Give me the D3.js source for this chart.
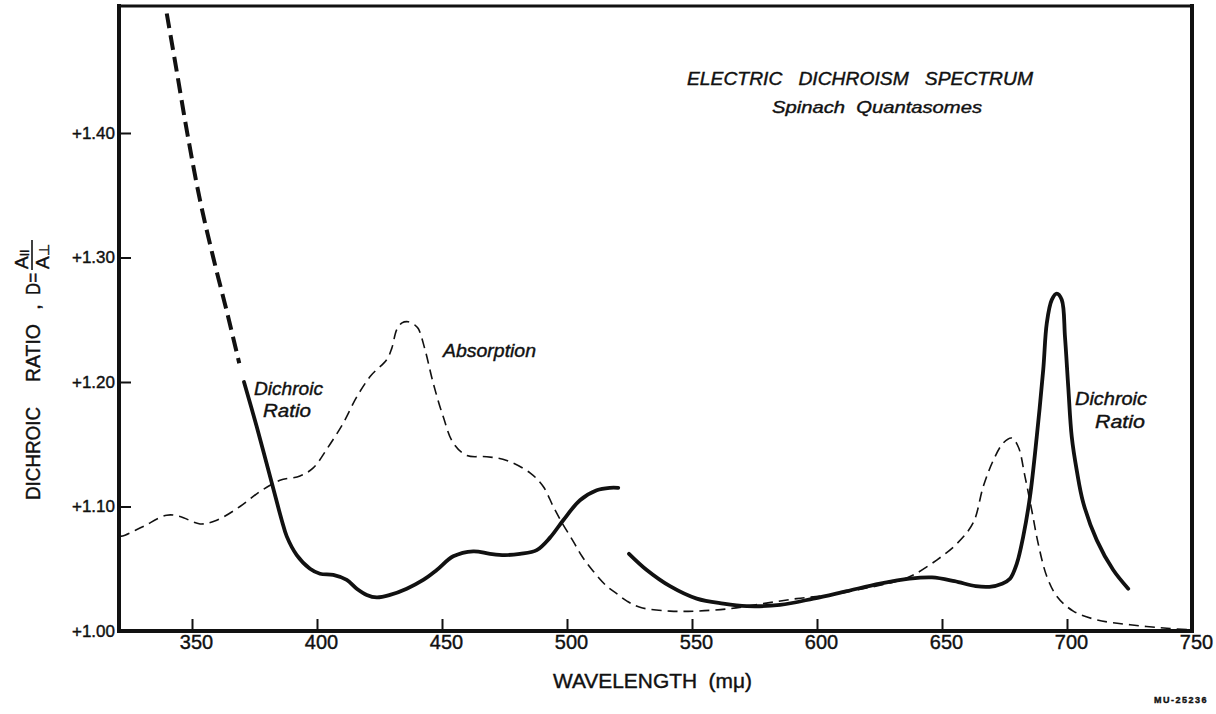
<!DOCTYPE html>
<html>
<head>
<meta charset="utf-8">
<script src="https://cdn.jsdelivr.net/npm/d3@7"></script>
<style>
  body { margin: 0; background: #fff; }
  text { font-family: "Liberation Sans", Arial, sans-serif; fill: #111; stroke: #111; stroke-width: 0.4px; white-space: pre; }
</style>
</head>
<body>
<div id="chart"></div>
<script>
// electric dichroism spectrum, spinach quantasomes

// dichroic ratio, extrapolated part (drawn thick dashed)
const extrapWl = [339.9, 343.6, 348.1, 353.2, 358.5, 364.5, 368.9]
const extrapD = [1.496, 1.453, 1.400, 1.346, 1.300, 1.252, 1.215]

// dichroic ratio, blue region (solid)
const ratioBlueWl = [370.8, 375.9, 381.9, 385.9, 387.9, 391.9, 397.2, 401.2, 406.5, 411.9, 415.9, 419.9, 423.9, 429.2, 435.9, 442.5, 447.9, 454.5, 462.5, 469.2, 475.0, 481.2, 487.9, 493.2, 498.5, 505.2, 511.9, 517.2, 520.5]
const ratioBlueD = [1.200, 1.164, 1.119, 1.089, 1.076, 1.061, 1.050, 1.046, 1.045, 1.041, 1.034, 1.029, 1.027, 1.029, 1.034, 1.041, 1.049, 1.060, 1.064, 1.062, 1.061, 1.062, 1.065, 1.075, 1.089, 1.105, 1.113, 1.115, 1.115]

// dichroic ratio, red region (solid)
const ratioRedWl = [524.8, 531.9, 541.2, 551.9, 562.5, 571.9, 585.2, 598.5, 611.9, 625.2, 637.0, 646.0, 655.0, 663.5, 669.0, 674.0, 677.2, 679.9, 682.5, 685.2, 687.9, 690.5, 691.9, 693.9, 695.9, 697.9, 699.2, 700.5, 701.9, 703.9, 706.5, 711.9, 718.5, 724.5]
const ratioRedD = [1.062, 1.049, 1.036, 1.026, 1.022, 1.020, 1.021, 1.026, 1.032, 1.038, 1.042, 1.043, 1.040, 1.036, 1.0355, 1.038, 1.042, 1.054, 1.076, 1.108, 1.156, 1.210, 1.247, 1.266, 1.271, 1.266, 1.236, 1.196, 1.156, 1.129, 1.103, 1.073, 1.049, 1.034]

// absorption spectrum (thin dashed), same vertical scale
const absorbWl = [321.2, 323.2, 330.5, 339.9, 345.2, 353.2, 359.9, 369.2, 377.2, 385.2, 393.2, 398.5, 403.9, 410.5, 415.9, 421.5, 427.9, 429.9, 431.9, 434.0, 436.5, 439.0, 440.5, 443.2, 446.5, 450.5, 454.5, 459.9, 467.9, 475.9, 485.2, 490.5, 494.5, 498.0, 502.5, 506.0, 510.5, 515.9, 519.9, 524.0, 529.2, 541.2, 551.9, 565.2, 578.5, 591.9, 605.2, 618.5, 631.9, 638.5, 647.9, 655.9, 662.5, 666.5, 670.5, 674.5, 677.9, 680.5, 683.2, 685.9, 688.5, 691.9, 695.9, 702.5, 711.9, 725.2, 741.2, 749.0]
const absorbD = [1.076, 1.077, 1.084, 1.093, 1.092, 1.086, 1.089, 1.100, 1.112, 1.121, 1.1245, 1.131, 1.146, 1.167, 1.188, 1.205, 1.218, 1.227, 1.242, 1.2475, 1.2484, 1.246, 1.243, 1.226, 1.199, 1.172, 1.151, 1.141, 1.140, 1.137, 1.127, 1.116, 1.100, 1.087, 1.072, 1.060, 1.048, 1.036, 1.030, 1.024, 1.019, 1.016, 1.016, 1.018, 1.022, 1.026, 1.029, 1.034, 1.040, 1.045, 1.057, 1.070, 1.087, 1.116, 1.137, 1.151, 1.155, 1.148, 1.124, 1.097, 1.070, 1.044, 1.028, 1.016, 1.009, 1.005, 1.002, 1.001]

const xTicks = [350, 400, 450, 500, 550, 600, 650, 700, 750]
const yTicks = [1.0, 1.1, 1.2, 1.3, 1.4]

function renderSpectrum(frame_id) {
    let width = 1216
    let height = 714

    var svg = d3.select("#" + frame_id)
        .append("svg")
        .attr("width", width)
        .attr("height", height)

    svg.append("rect").attr("width", width).attr("height", height).attr("fill", "#fff")

    var x = d3.scaleLinear().domain([320.8, 750]).range([119, 1192])
    var y = d3.scaleLinear().domain([1.0, 1.502]).range([631, 6])

    var line = d3.line()
        .x(function (d) { return x(d[0]) })
        .y(function (d) { return y(d[1]) })
        .curve(d3.curveCatmullRom.alpha(0.5))

    // frame
    let [x0, x1] = x.range()
    let [y0, y1] = y.range()
    let frame = svg.append("g").attr("stroke", "#111").attr("stroke-linecap", "square")
    frame.append("line").attr("x1", x0).attr("x2", x0).attr("y1", y0).attr("y2", y1).attr("stroke-width", 4)
    frame.append("line").attr("x1", x0).attr("x2", x1).attr("y1", y0).attr("y2", y0).attr("stroke-width", 4)
    frame.append("line").attr("x1", x1).attr("x2", x1).attr("y1", y0).attr("y2", y1).attr("stroke-width", 4)
    frame.append("line").attr("x1", x0).attr("x2", x1).attr("y1", y1).attr("y2", y1).attr("stroke-width", 3)

    // axes (ticks point inward)
    var xAxis = svg.append("g")
        .attr("transform", "translate(0," + y0 + ")")
        .call(d3.axisBottom(x).tickValues(xTicks).tickSizeInner(-12).tickSizeOuter(0).tickPadding(4).tickFormat(d3.format("d")))
    xAxis.select(".domain").remove()
    xAxis.selectAll("line").attr("stroke", "#111").attr("stroke-width", 2)
    xAxis.selectAll("text")
        .attr("dx", 4)
        .style("font-size", "20px")
        .attr("fill", "#111")

    var yAxis = svg.append("g")
        .attr("transform", "translate(" + x0 + ",0)")
        .call(d3.axisLeft(y).tickValues(yTicks).tickSizeInner(-12).tickSizeOuter(0).tickPadding(4)
            .tickFormat(function (d) { return "+" + d.toFixed(2) }))
    yAxis.select(".domain").remove()
    yAxis.selectAll("line").attr("stroke", "#111").attr("stroke-width", 2)
    yAxis.selectAll("text")
        .style("font-size", "17px")
        .attr("fill", "#111")

    // curves
    svg.append("path")
        .datum(d3.zip(absorbWl, absorbD))
        .attr("d", line)
        .attr("fill", "none")
        .attr("stroke", "#111")
        .attr("stroke-width", 1.6)
        .attr("stroke-dasharray", "10,6")

    svg.append("path")
        .datum(d3.zip(extrapWl, extrapD))
        .attr("d", line)
        .attr("fill", "none")
        .attr("stroke", "#111")
        .attr("stroke-width", 4)
        .attr("stroke-dasharray", "15,7")

    svg.selectAll("solid")
        .data([d3.zip(ratioBlueWl, ratioBlueD), d3.zip(ratioRedWl, ratioRedD)])
        .enter()
        .append("path")
        .attr("d", line)
        .attr("fill", "none")
        .attr("stroke", "#111")
        .attr("stroke-width", 3.8)
        .attr("stroke-linecap", "round")
        .attr("stroke-linejoin", "round")

    // titles and labels
    svg.append("text")
        .attr("x", 687).attr("y", 85)
        .attr("textLength", 346).attr("lengthAdjust", "spacingAndGlyphs")
        .style("font-size", "17.5px").style("font-style", "italic")
        .text("ELECTRIC   DICHROISM   SPECTRUM")

    svg.append("text")
        .attr("x", 772).attr("y", 113)
        .attr("textLength", 210).attr("lengthAdjust", "spacingAndGlyphs")
        .style("font-size", "17px").style("font-style", "italic")
        .text("Spinach  Quantasomes")

    let notes = [
        { t: "Absorption", x: 443, y: 357, w: 93 },
        { t: "Dichroic", x: 254, y: 395, w: 69 },
        { t: "Ratio", x: 263, y: 417, w: 48 },
        { t: "Dichroic", x: 1075, y: 405, w: 72 },
        { t: "Ratio", x: 1095, y: 428, w: 50 }
    ]
    svg.selectAll("notes")
        .data(notes)
        .enter()
        .append("text")
        .attr("x", function (d) { return d.x })
        .attr("y", function (d) { return d.y })
        .attr("textLength", function (d) { return d.w })
        .attr("lengthAdjust", "spacingAndGlyphs")
        .style("font-size", "18px").style("font-style", "italic")
        .text(function (d) { return d.t })

    svg.append("text")
        .attr("x", 553).attr("y", 688)
        .attr("textLength", 199).attr("lengthAdjust", "spacingAndGlyphs")
        .style("font-size", "20px")
        .text("WAVELENGTH  (mμ)")

    // y title, rotated, with the fraction A∥ / A⊥
    let yt = svg.append("g").attr("transform", "translate(40,500) rotate(-90)")
    yt.append("text").attr("x", 0).attr("y", 0)
        .attr("textLength", 93).attr("lengthAdjust", "spacingAndGlyphs")
        .style("font-size", "21px").text("DICHROIC")
    yt.append("text").attr("x", 118).attr("y", 0)
        .attr("textLength", 58).attr("lengthAdjust", "spacingAndGlyphs")
        .style("font-size", "21px").text("RATIO")
    yt.append("text").attr("x", 190).attr("y", 0)
        .style("font-size", "21px").text(",")
    yt.append("text").attr("x", 205).attr("y", 0)
        .attr("textLength", 22).attr("lengthAdjust", "spacingAndGlyphs")
        .style("font-size", "21px").text("D=")
    yt.append("text").attr("x", 231).attr("y", -12)
        .style("font-size", "19px").text("A")
        .append("tspan").attr("dy", 1).style("font-size", "12px").text("II")
    yt.append("line").attr("x1", 230).attr("x2", 260).attr("y1", -8).attr("y2", -8)
        .attr("stroke", "#111").attr("stroke-width", 1.6)
    yt.append("text").attr("x", 231).attr("y", 9)
        .style("font-size", "19px").text("A")
        .append("tspan").attr("dy", 0).style("font-size", "14px").text("⊥")

    svg.append("text")
        .attr("x", 1208).attr("y", 703)
        .attr("text-anchor", "end")
        .style("font-size", "9px").style("font-weight", "bold").style("letter-spacing", "1.5px")
        .text("MU-25236")
}

document.addEventListener('DOMContentLoaded', function () {
    renderSpectrum("chart")
}, false)
</script>
</body>
</html>
